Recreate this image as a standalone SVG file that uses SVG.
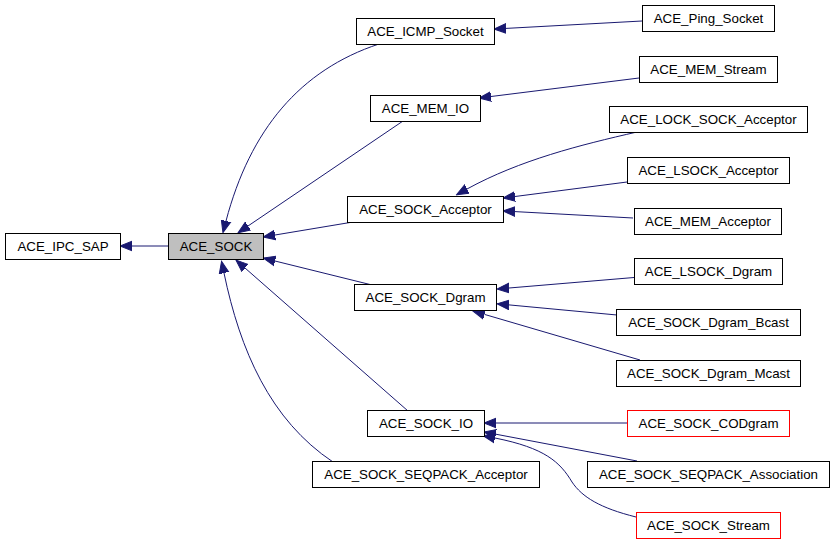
<svg xmlns="http://www.w3.org/2000/svg" width="835" height="544" viewBox="0 0 835 544">
<style>
.n rect{fill:#fff;stroke:#000;stroke-width:1}
.n.cur rect{fill:#bfbfbf}
.n.red rect{stroke:#ff0000}
.n text{font-family:"Liberation Sans",Arial,sans-serif;font-size:13.33px;text-anchor:middle;fill:#000}
.e path{fill:none;stroke:#191970;stroke-width:1;marker-end:url(#ah)}
</style>
<defs>
<marker id="ah" markerUnits="userSpaceOnUse" viewBox="0 -6 13 12" refX="0" refY="0" markerWidth="13" markerHeight="12" orient="auto">
<path d="M0,-4.8 L12,0 L0,4.8 z" fill="#191970" stroke="#191970" stroke-width="1"/>
</marker>
</defs>
<rect width="835" height="544" fill="#fff"/>
<g id="edges" class="e">
<path d="M168,246 L132,246"/>
<path d="M379,44 C300,70 250,130 226,221"/>
<path d="M403,121 L248,226"/>
<path d="M353,222 L275,235"/>
<path d="M372,285 L275,261"/>
<path d="M408,411 L245,268"/>
<path d="M333,462 C270,420 240,350 224,273"/>
<path d="M642,21 L506,28.4"/>
<path d="M639,78 L491,96.5"/>
<path d="M637,132 C580,145 520,160 467,189"/>
<path d="M627,182 L515,196.5"/>
<path d="M633,218 L515,211.6"/>
<path d="M634,277.5 L509,288"/>
<path d="M617,315 L509,304.9"/>
<path d="M640,360 L484.5,314.4"/>
<path d="M627,423 L496,423"/>
<path d="M637,461 L495.8,434.2"/>
<path d="M636,517 C600,508 582,497 572,482 C560,462 545,448 495,438"/>
</g>
<g id="ACE_IPC_SAP" class="n"><rect x="5.5" y="233.5" width="115" height="26"/><text x="63" y="251">ACE_IPC_SAP</text></g>
<g id="ACE_SOCK" class="n cur"><rect x="168.5" y="233.5" width="95" height="26"/><text x="216" y="251">ACE_SOCK</text></g>
<g id="ACE_ICMP_Socket" class="n"><rect x="356.5" y="18.5" width="138" height="26"/><text x="425.5" y="36">ACE_ICMP_Socket</text></g>
<g id="ACE_MEM_IO" class="n"><rect x="370.5" y="95.5" width="110" height="26"/><text x="425.5" y="113">ACE_MEM_IO</text></g>
<g id="ACE_SOCK_Acceptor" class="n"><rect x="347.5" y="196.5" width="156" height="26"/><text x="425.5" y="214">ACE_SOCK_Acceptor</text></g>
<g id="ACE_SOCK_Dgram" class="n"><rect x="354.5" y="284.5" width="142" height="26"/><text x="425.5" y="302">ACE_SOCK_Dgram</text></g>
<g id="ACE_SOCK_IO" class="n"><rect x="367.5" y="410.5" width="117" height="26"/><text x="426" y="428">ACE_SOCK_IO</text></g>
<g id="ACE_SOCK_SEQPACK_Acceptor" class="n"><rect x="312.5" y="461.5" width="227" height="26"/><text x="426" y="479">ACE_SOCK_SEQPACK_Acceptor</text></g>
<g id="ACE_Ping_Socket" class="n"><rect x="642.5" y="5.5" width="132" height="26"/><text x="708.5" y="23">ACE_Ping_Socket</text></g>
<g id="ACE_MEM_Stream" class="n"><rect x="639.5" y="56.5" width="138" height="26"/><text x="708.5" y="74">ACE_MEM_Stream</text></g>
<g id="ACE_LOCK_SOCK_Acceptor" class="n"><rect x="609.5" y="106.5" width="198" height="26"/><text x="708.5" y="124">ACE_LOCK_SOCK_Acceptor</text></g>
<g id="ACE_LSOCK_Acceptor" class="n"><rect x="627.5" y="157.5" width="162" height="26"/><text x="708.5" y="175">ACE_LSOCK_Acceptor</text></g>
<g id="ACE_MEM_Acceptor" class="n"><rect x="634.5" y="208.5" width="147" height="26"/><text x="708" y="226">ACE_MEM_Acceptor</text></g>
<g id="ACE_LSOCK_Dgram" class="n"><rect x="634.5" y="258.5" width="148" height="26"/><text x="708.5" y="276">ACE_LSOCK_Dgram</text></g>
<g id="ACE_SOCK_Dgram_Bcast" class="n"><rect x="616.5" y="309.5" width="184" height="26"/><text x="708.5" y="327">ACE_SOCK_Dgram_Bcast</text></g>
<g id="ACE_SOCK_Dgram_Mcast" class="n"><rect x="616.5" y="360.5" width="184" height="26"/><text x="708.5" y="378">ACE_SOCK_Dgram_Mcast</text></g>
<g id="ACE_SOCK_CODgram" class="n red"><rect x="627.5" y="410.5" width="162" height="26"/><text x="708.5" y="428">ACE_SOCK_CODgram</text></g>
<g id="ACE_SOCK_SEQPACK_Association" class="n"><rect x="587.5" y="461.5" width="242" height="26"/><text x="708.5" y="479">ACE_SOCK_SEQPACK_Association</text></g>
<g id="ACE_SOCK_Stream" class="n red"><rect x="636.5" y="512.5" width="144" height="26"/><text x="708.5" y="530">ACE_SOCK_Stream</text></g>
</svg>
